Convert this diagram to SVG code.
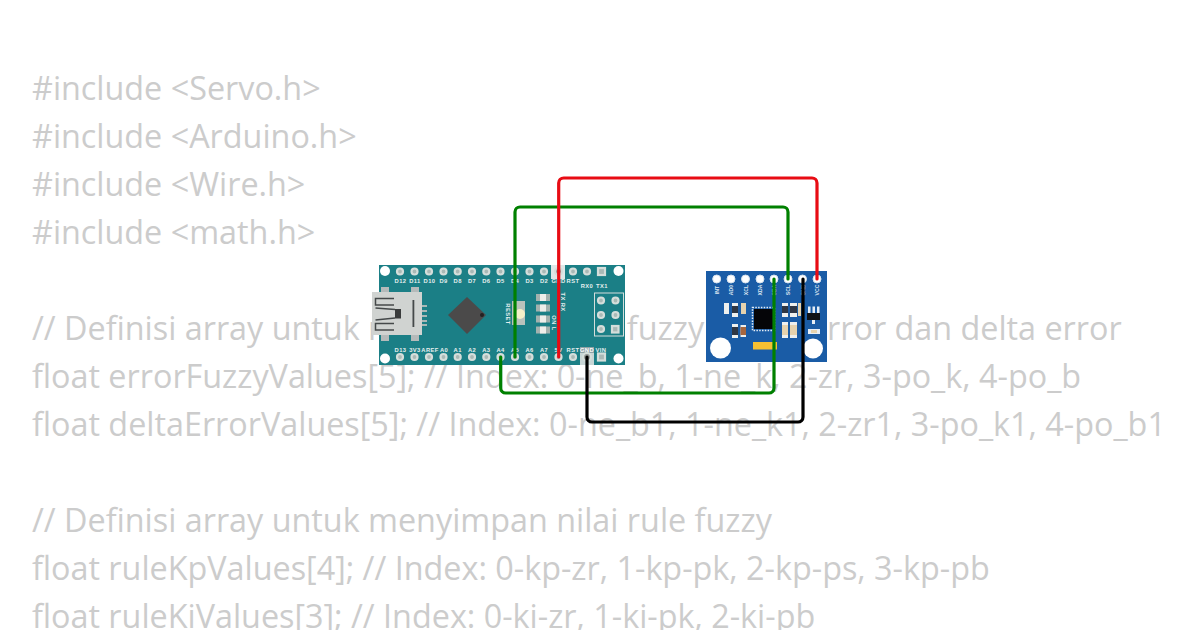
<svg xmlns="http://www.w3.org/2000/svg" width="1200" height="630" viewBox="0 0 1200 630">
<style>
.code{font-family:"Open Sans","Noto Sans",sans-serif;font-size:32.35px;fill:#ccc}
.l{font-family:"Liberation Sans",Arial,sans-serif;font-size:5.8px;font-weight:700;fill:#e6efef;text-anchor:middle;letter-spacing:.4px}
.m{font-family:"Liberation Sans",Arial,sans-serif;font-size:5.2px;font-weight:700;fill:#dfe8f2;text-anchor:middle}
.pin{fill:#a9b9b6;stroke:#d5dedb;stroke-width:2.2}
.w{fill:none;stroke-width:3.2;stroke-linecap:round;stroke-linejoin:round}
.ledend{fill:#a3b1ae}
.led{fill:#eeeeea}
.dark{fill:#2f3744}
.wht{fill:#eef0ee}
.tan{fill:#e6d3ae}
</style>
<rect width="1200" height="630" fill="#fff"/>
<g id="code">
<text class="code" x="32" y="100">#include &lt;Servo.h&gt;</text>
<text class="code" x="32" y="148">#include &lt;Arduino.h&gt;</text>
<text class="code" x="32" y="196">#include &lt;Wire.h&gt;</text>
<text class="code" x="32" y="244">#include &lt;math.h&gt;</text>
<text class="code" x="32" y="340">// Definisi array untuk menyimpan nilai fuzzy untuk error dan delta error</text>
<text class="code" x="32" y="388">float errorFuzzyValues[5]; // Index: 0-ne_b, 1-ne_k, 2-zr, 3-po_k, 4-po_b</text>
<text class="code" x="32" y="436">float deltaErrorValues[5]; // Index: 0-ne_b1, 1-ne_k1, 2-zr1, 3-po_k1, 4-po_b1</text>
<text class="code" x="32" y="532">// Definisi array untuk menyimpan nilai rule fuzzy</text>
<text class="code" x="32" y="580">float ruleKpValues[4]; // Index: 0-kp-zr, 1-kp-pk, 2-kp-ps, 3-kp-pb</text>
<text class="code" x="32" y="628">float ruleKiValues[3]; // Index: 0-ki-zr, 1-ki-pk, 2-ki-pb</text>
</g>
<g id="arduino-nano">
<rect x="379" y="265" width="246" height="100" fill="#1b7f86"/>
<rect x="551" y="265" width="14" height="14" fill="#dfe7e7"/>
<rect x="580" y="347" width="14" height="18" fill="#c8d6d6"/>
<rect x="580" y="347" width="14" height="6" fill="#8fa2a6"/>
<circle cx="385" cy="271" r="5" fill="#fff"/><circle cx="385" cy="358.500" r="5" fill="#fff"/>
<circle cx="618.500" cy="271" r="5" fill="#fff"/><circle cx="618.500" cy="358.500" r="5" fill="#fff"/>
<g class="pin">
<circle cx="400" cy="271.500" r="3"/><circle cx="414.500" cy="271.500" r="3"/><circle cx="429" cy="271.500" r="3"/><circle cx="443.500" cy="271.500" r="3"/><circle cx="457.700" cy="271.500" r="3"/><circle cx="472" cy="271.500" r="3"/><circle cx="486.300" cy="271.500" r="3"/><circle cx="500.500" cy="271.500" r="3"/><circle cx="515" cy="271.500" r="3"/><circle cx="529.500" cy="271.500" r="3"/><circle cx="544" cy="271.500" r="3"/><circle cx="558.500" cy="271.500" r="3.500" fill="#8f9493"/><circle cx="573" cy="271.500" r="3"/><circle cx="587" cy="271.500" r="3"/>
<rect x="598" y="268" width="7" height="7"/>
<circle cx="400" cy="357" r="3"/><circle cx="414.500" cy="357" r="3"/><circle cx="429" cy="357" r="3"/><circle cx="443.500" cy="357" r="3"/><circle cx="457.700" cy="357" r="3"/><circle cx="472" cy="357" r="3"/><circle cx="486.300" cy="357" r="3"/><circle cx="500.500" cy="357" r="3"/><circle cx="515" cy="357" r="3"/><circle cx="529.500" cy="357" r="3"/><circle cx="544" cy="357" r="3"/><circle cx="558.500" cy="357" r="3"/><circle cx="573" cy="357" r="3"/><circle cx="587" cy="357" r="4" fill="#8f9493"/>
<rect x="598" y="353.500" width="7" height="7"/>
</g>
<g class="l">
<text x="400.500" y="282.500">D12</text><text x="415" y="282.500">D11</text><text x="429.500" y="282.500">D10</text><text x="443.500" y="282.500">D9</text><text x="457.700" y="282.500">D8</text><text x="472" y="282.500">D7</text><text x="486.300" y="282.500">D6</text><text x="500.500" y="282.500">D5</text><text x="515" y="282.500">D4</text><text x="529.500" y="282.500">D3</text><text x="544" y="282.500">D2</text><text x="558.500" y="282.500">GND</text><text x="573" y="282.500">RST</text><text x="587" y="287.500">RX0</text><text x="602" y="287.500">TX1</text>
<text x="400.500" y="351.500">D13</text><text x="415" y="351.500">3V3</text><text x="430" y="351.500">AREF</text><text x="444" y="351.500">A0</text><text x="457.700" y="351.500">A1</text><text x="472" y="351.500">A2</text><text x="486.300" y="351.500">A3</text><text x="500.500" y="351.500">A4</text><text x="515" y="351.500">A5</text><text x="529.500" y="351.500">A6</text><text x="544" y="351.500">A7</text><text x="558.500" y="351.500">5V</text><text x="573" y="351.500">RST</text><text x="587" y="351.500" style="fill:#fff">GND</text><text x="601" y="351.500">VIN</text>
<text transform="translate(505.500 314) rotate(90)">RESET</text>
<text transform="translate(560.500 302) rotate(90)">TX RX</text>
<text transform="translate(552 323) rotate(90)">ON L</text>
</g>
<g id="usb">
<g fill="#b5baba"><rect x="381" y="287" width="8" height="5"/><rect x="411" y="287" width="8" height="5"/><rect x="381" y="335" width="8" height="6"/><rect x="411" y="335" width="8" height="6"/></g>
<rect x="372" y="292" width="50" height="43" fill="#d0d3d1"/>
<g fill="none" stroke="#45494a" stroke-width="1.500"><path d="M394 298.500H375.500V305H394"/><path d="M375.500 308L395 309.500M375.500 320L395 318"/><path d="M394 323.500H375.500V330H394"/></g>
<rect x="395" y="309" width="6" height="9.500" fill="#3a3c3c"/>
<rect x="412.500" y="300" width="1.800" height="27" fill="#45494a"/>
<g fill="#a8b8b6"><rect x="422" y="305" width="5" height="2"/><rect x="422" y="310" width="5" height="2"/><rect x="422" y="315" width="5" height="2"/><rect x="422" y="320" width="5" height="2"/><rect x="422" y="324" width="5" height="2"/></g>
</g>
<path d="M467 297l19 18-19 19-19-19z" fill="#4b4a4a"/>
<circle cx="482" cy="315" r="2" fill="#222"/>
<g id="leds">
<rect x="536" y="294" width="14" height="7" class="ledend"/><rect x="540" y="294" width="6" height="7" class="led"/>
<rect x="536" y="304.500" width="14" height="7" class="ledend"/><rect x="540" y="304.500" width="6" height="7" class="led"/>
<rect x="536" y="315.500" width="14" height="7" class="ledend"/><rect x="540" y="315.500" width="6" height="7" class="led"/>
<rect x="536" y="326.500" width="14" height="7" class="ledend"/><rect x="540" y="326.500" width="6" height="7" class="led"/>
<rect x="512" y="301" width="13" height="24" fill="#b9c2bc"/><circle cx="520" cy="314" r="5" fill="#f4f0c8"/>
</g>
<g id="icsp">
<rect x="594.500" y="293" width="29" height="43" fill="none" stroke="#d5dedb" stroke-width="1"/>
<g class="pin"><circle cx="601" cy="300.500" r="3"/><circle cx="615.500" cy="300.500" r="3"/><circle cx="601" cy="315" r="3"/><circle cx="615.500" cy="315" r="3"/><circle cx="601" cy="329" r="3"/><rect x="612" y="326" width="6.500" height="6.500"/></g>
</g>
</g>
<g id="mpu6050">
<rect x="706" y="271" width="121" height="91" fill="#1a5ca6"/>
<g fill="#fff" stroke="#d6e2ee" stroke-width="1"><circle cx="716.700" cy="279" r="4"/><circle cx="731" cy="279" r="4"/><circle cx="745.500" cy="279" r="4"/><circle cx="760" cy="279" r="4"/><circle cx="774" cy="279" r="4"/><circle cx="788" cy="279" r="4"/><circle cx="802.500" cy="279" r="4"/><circle cx="817" cy="279" r="4"/></g>
<g class="m">
<text transform="translate(718.500 290) rotate(-90)">INT</text><text transform="translate(733 290) rotate(-90)">AD0</text><text transform="translate(747.500 290) rotate(-90)">XCL</text><text transform="translate(762 290) rotate(-90)">XDA</text><text transform="translate(776 290) rotate(-90)">SDA</text><text transform="translate(790 290) rotate(-90)">SCL</text><text transform="translate(804.500 290) rotate(-90)">GND</text><text transform="translate(819 290) rotate(-90)">VCC</text>
</g>
<circle cx="720.500" cy="348" r="10.500" fill="#fff"/><circle cx="813" cy="348.500" r="10" fill="#fff"/>
<rect x="754" y="309" width="19" height="20" fill="#050508"/>
<rect x="752.500" y="307.500" width="22" height="23" fill="none" stroke="#e6eef6" stroke-width="1.500" stroke-dasharray="1.500 1.300"/>
<rect x="724" y="303" width="5" height="11" class="wht"/>
<rect x="732" y="303" width="6" height="14" class="wht"/><rect x="732" y="306" width="6" height="7" class="dark"/>
<rect x="741" y="303" width="5" height="11" class="tan"/>
<rect x="732" y="324" width="6" height="14" class="wht"/><rect x="732" y="327" width="6" height="8" class="dark"/>
<rect x="740.500" y="325" width="5.500" height="12" class="wht"/><rect x="740.500" y="327" width="5.500" height="8" fill="#a5663f"/>
<rect x="782" y="303" width="6" height="14" class="wht"/><rect x="782" y="306" width="6" height="7" class="dark"/>
<rect x="790" y="303" width="7" height="14" class="wht"/><rect x="790" y="306" width="7" height="7" class="dark"/>
<rect x="798" y="303" width="3" height="13" class="tan"/>
<rect x="782" y="322" width="6" height="16" class="wht"/><rect x="782" y="325" width="6" height="10" class="tan"/>
<rect x="790" y="322" width="7" height="16" class="wht"/><rect x="790" y="325" width="7" height="10" class="tan"/>
<rect x="753" y="342" width="24" height="7.500" fill="#f5c033"/>
<rect x="807" y="313" width="13" height="7" fill="#101216"/>
<g fill="#e6eef6"><rect x="808" y="306.500" width="2.500" height="6.500"/><rect x="812.500" y="306.500" width="2.500" height="6.500"/><rect x="817" y="306.500" width="2.500" height="6.500"/><rect x="808" y="329" width="12" height="5"/></g>
<rect x="812" y="320" width="3" height="4" fill="#e6eef6"/>
<rect x="811" y="330" width="6" height="3" class="tan"/>
</g>
<g id="connectors">
<path class="w" stroke="#008000" d="M500.700 357V388a5 5 0 0 0 5 5H769a5 5 0 0 0 5-5V279"/>
<path class="w" stroke="#008000" d="M515 357V212a5 5 0 0 1 5-5H783a5 5 0 0 1 5 5V279"/>
<path class="w" stroke="#e80c14" d="M558.700 357V183a5 5 0 0 1 5-5H812a5 5 0 0 1 5 5V279"/>
<path class="w" stroke="#000" d="M587 357V417a5 5 0 0 0 5 5H798a5 5 0 0 0 5-5V279"/>
</g>
</svg>
